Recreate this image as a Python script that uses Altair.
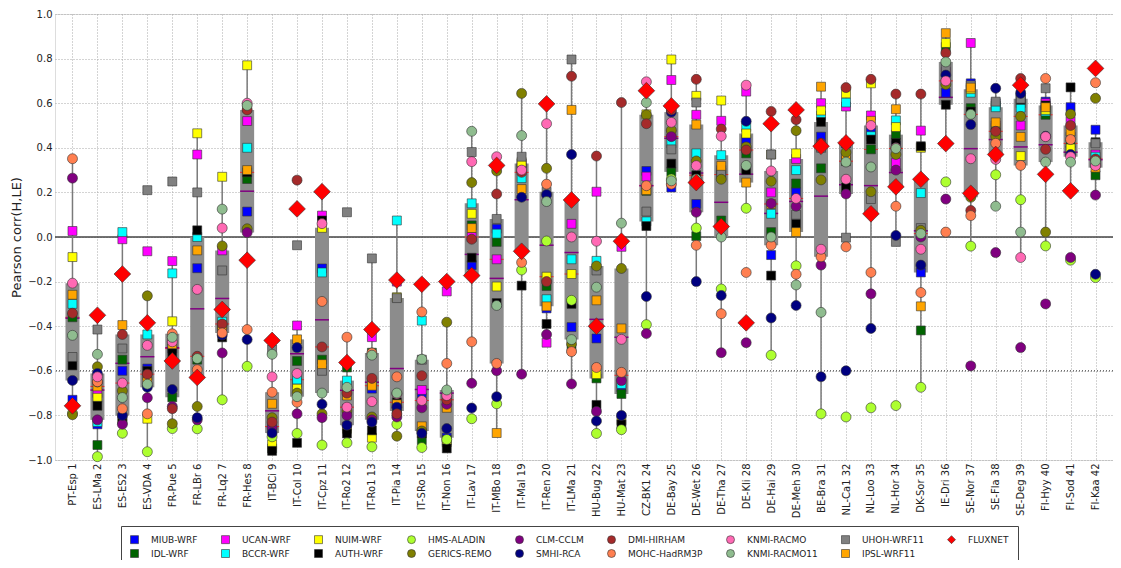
import altair as alt
import pandas as pd

sites = ["PT-Esp 1","ES-LMa 2","ES-ES2 3","ES-VDA 4","FR-Pue 5","FR-LBr 6","FR-Lq2 7","FR-Hes 8",
         "IT-BCi 9","IT-Col 10","IT-Cpz 11","IT-Ro2 12","IT-Ro1 13","IT-Pia 14","IT-SRo 15","IT-Non 16",
         "IT-Lav 17","IT-MBo 18","IT-Mal 19","IT-Ren 20","IT-LMa 21","HU-Bug 22","HU-Mat 23","CZ-BK1 24",
         "DE-Bay 25","DE-Wet 26","DE-Tha 27","DE-Kli 28","DE-Hai 29","DE-Meh 30","BE-Bra 31","NL-Ca1 32",
         "NL-Loo 33","NL-Hor 34","DK-Sor 35","IE-Dri 36","SE-Nor 37","SE-Fla 38","SE-Deg 39","FI-Hyy 40",
         "FI-Sod 41","FI-Kaa 42"]

MIUB_WRF = [-0.73, -0.84, -0.60, -0.59, -0.50, -0.14, -0.40, 0.114, -0.86, -0.652, -0.141, -0.77, -0.68, -0.766,
            -0.72, -0.90, -0.126, 0.037, 0.33, -0.32, -0.404, -0.455, -0.674, 0.296, 0.222, 0.148, 0.30, 0.437,
            -0.081, 0.20, 0.45, 0.42, 0.47, 0.41, -0.159, 0.647, 0.689, 0.60, 0.64, 0.607, 0.582, 0.481]
IDL_WRF = [-0.36, -0.933, -0.55, -0.62, -0.719, -0.55, -0.41, 0.26, -0.948, -0.556, -0.55, -0.585, -0.519, -0.78,
           -0.911, -0.91, 0.052, -0.022, 0.31, -0.22, -0.50, -0.634, -0.704, 0.207, 0.292, 0.004, 0.074, 0.375,
           0.022, 0.24, 0.308, 0.34, 0.393, 0.459, -0.419, 0.852, 0.578, 0.59, 0.60, 0.548, 0.42, 0.277]
UCAN_WRF = [0.027, -0.70, -0.01, -0.064, -0.108, 0.37, -0.06, 0.52, -0.85, -0.397, 0.096, -0.85, -0.449, -0.20,
            -0.686, -0.244, 0.0, -0.10, 0.32, -0.474, 0.059, 0.203, -0.044, 0.271, 0.704, 0.548, 0.521, 0.652,
            0.20, 0.35, 0.60, 0.585, 0.545, 0.333, 0.477, 0.74, 0.87, 0.50, 0.50, 0.60, 0.519, 0.37]
BCCR_WRF = [-0.30, -0.83, 0.022, -0.437, -0.163, 0.0, -0.38, 0.40, -0.87, -0.64, -0.159, -0.644, -0.66, 0.074,
            -0.375, -0.72, 0.151, 0.015, 0.264, -0.279, -0.10, -0.107, -0.659, 0.07, 0.42, 0.375, 0.367, 0.493,
            0.104, 0.30, 0.544, 0.603, 0.452, 0.523, 0.197, 0.696, 0.647, 0.582, 0.58, 0.563, 0.388, 0.36]
NUIM_WRF = [-0.09, -0.721, -0.82, -0.815, -0.378, 0.465, 0.27, 0.77, -0.93, -0.68, 0.041, -0.86, -0.90, -0.27,
            -0.74, -0.92, 0.104, -0.222, 0.336, -0.178, -0.166, -0.615, -0.822, 0.55, 0.796, 0.633, 0.612, 0.464,
            0.37, 0.375, 0.567, 0.644, 0.689, 0.493, 0.40, 0.87, 0.663, 0.49, 0.363, 0.57, 0.397, 0.33]
AUTH_WRF = [-0.576, -0.757, -0.82, -0.60, -0.52, 0.03, -0.45, 0.29, -0.959, -0.923, 0.074, -0.881, -0.867, -0.741,
            -0.881, -0.948, -0.093, -0.296, -0.218, -0.39, -0.30, -0.753, -0.84, 0.049, 0.329, 0.277, 0.28, 0.30,
            -0.173, 0.059, 0.516, 0.222, 0.437, 0.422, 0.407, 0.593, 0.563, 0.47, 0.615, 0.59, 0.671, 0.425]
HMS_ALADIN = [-0.79, -0.985, -0.88, -0.963, -0.859, -0.86, -0.73, -0.58, -0.896, -0.881, -0.933, -0.923, -0.941,
              -0.84, -0.944, -0.908, -0.815, -0.748, -0.148, -0.018, -0.284, -0.881, -0.864, -0.393, 0.26, 0.04,
              -0.233, 0.129, -0.53, -0.129, -0.793, -0.807, -0.766, -0.756, -0.674, 0.247, -0.041, 0.279, 0.167,
              -0.04, -0.104, -0.182]
GERICS_REMO = [-0.797, -0.582, -0.69, -0.264, -0.837, -0.76, -0.04, 0.037, -0.81, -0.70, -0.793, -0.78, -0.807,
               -0.893, -0.87, -0.382, 0.244, 0.296, 0.644, 0.308, -0.479, -0.13, -0.141, 0.548, 0.479, 0.341, 0.259,
               0.404, 0.25, 0.477, 0.256, 0.38, 0.203, 0.37, 0.03, 0.684, 0.178, 0.45, 0.541, 0.022, 0.551, 0.622]
CLM_CCLM = [0.264, -0.82, -0.84, -0.721, -0.76, -0.82, -0.52, 0.02, -0.855, -0.793, -0.81, -0.80, -0.82, -0.807,
            -0.766, -0.75, -0.656, -0.60, -0.615, -0.437, -0.659, -0.782, -0.644, -0.433, 0.45, 0.111, -0.519,
            -0.474, 0.15, 0.138, -0.126, 0.193, -0.255, 0.30, 0.0, 0.17, -0.578, -0.07, -0.496, -0.30, -0.092, 0.188]
SMHI_RCA = [-0.643, -0.612, -0.80, -0.674, -0.684, -0.81, -0.44, -0.46, -0.879, -0.496, -0.75, -0.844, -0.83,
            -0.763, -0.88, -0.859, -0.767, -0.716, 0.178, 0.19, 0.37, -0.825, -0.80, -0.267, 0.56, -0.20, -0.262,
            0.519, -0.363, -0.307, -0.627, -0.60, -0.41, 0.007, -0.126, 0.726, 0.504, 0.667, 0.644, 0.452, 0.37,
            -0.167]
DMI_HIRHAM = [-0.342, -0.65, -0.437, -0.615, -0.77, -0.535, -0.39, 0.57, -0.83, 0.255, -0.493, -0.70, -0.634,
              -0.793, -0.622, -0.73, -0.01, 0.193, 0.29, -0.20, 0.721, 0.363, 0.603, 0.508, 0.57, 0.707, 0.484, 0.39,
              0.563, 0.526, 0.42, 0.67, 0.707, 0.641, 0.641, 0.825, 0.119, 0.474, 0.711, 0.393, 0.50, 0.35]
MOHC_HadRM3P = [0.351, -0.649, -0.77, -0.793, -0.434, -0.595, -0.43, -0.415, -0.696, -0.741, -0.289, -0.449, -0.52,
                -0.627, -0.336, -0.567, -0.47, -0.567, -0.114, 0.237, -0.514, -0.585, -0.607, 0.23, 0.237, -0.037,
                -0.344, -0.159, -0.037, -0.167, -0.089, -0.044, -0.159, 0.138, -0.249, 0.022, 0.096, 0.42, 0.321,
                0.711, 0.437, 0.692]
KNMI_RACMO = [-0.207, -0.627, -0.655, -0.486, -0.47, -0.235, 0.04, 0.60, -0.627, -0.612, 0.06, -0.763, -0.738,
              -0.704, -0.733, -0.711, 0.338, 0.36, 0.30, 0.508, 0.0, -0.019, -0.459, 0.696, 0.514, 0.32, 0.452,
              0.681, 0.296, 0.173, -0.055, 0.259, 0.50, 0.40, -0.055, 0.70, 0.351, 0.348, -0.092, 0.45, 0.36, 0.32]
KNMI_RACMO11 = [-0.441, -0.526, -0.72, -0.66, -0.45, -0.545, 0.125, 0.59, -0.526, -0.716, -0.70, -0.674, -0.53,
                -0.70, -0.548, -0.686, 0.474, -0.307, 0.455, 0.159, -0.46, -0.225, 0.062, 0.603, 0.252, 0.26, 0.0,
                0.321, 0.0, -0.215, -0.338, 0.336, 0.314, 0.397, 0.015, 0.785, 0.55, 0.138, 0.022, 0.336, 0.336,
                0.341]
UHOH_WRF11 = [-0.538, -0.415, -0.50, 0.21, 0.249, 0.20, -0.15, 0.58, -0.504, -0.037, -0.60, 0.111, -0.096, -0.274,
              -0.55, -0.70, 0.381, 0.081, 0.36, 0.203, 0.796, -0.15, -0.62, 0.114, 0.393, 0.603, 0.289, 0.40, 0.37,
              0.10, 0.40, -0.003, 0.17, -0.022, 0.04, 0.758, 0.68, 0.607, 0.62, 0.667, 0.45, 0.42]
IPSL_WRF11 = [-0.259, -0.67, -0.395, -0.649, -0.481, -0.06, -0.395, 0.30, -0.748, -0.459, -0.57, -0.711, -0.667,
              -0.75, -0.849, -0.766, 0.04, -0.879, 0.215, -0.311, 0.57, -0.284, -0.41, 0.21, 0.459, 0.504, 0.319,
              0.244, 0.148, 0.022, 0.674, 0.366, 0.521, 0.573, -0.311, 0.914, 0.67, 0.514, 0.449, 0.582, 0.474, 0.311]
FLUXNET = [-0.757, -0.351, -0.166, -0.385, -0.556, -0.63, -0.325, -0.104, -0.464, 0.126, 0.203, -0.563, -0.415,
           -0.193, -0.212, -0.20, -0.173, 0.321, -0.064, 0.597, 0.166, -0.40, -0.019, 0.656, 0.588, 0.244, 0.047,
           -0.385, 0.508, 0.57, 0.407, 0.422, 0.104, 0.225, 0.259, 0.419, 0.196, 0.37, 0.681, 0.281, 0.207, 0.756]

series = {
    "MIUB-WRF": MIUB_WRF, "IDL-WRF": IDL_WRF, "UCAN-WRF": UCAN_WRF, "BCCR-WRF": BCCR_WRF,
    "NUIM-WRF": NUIM_WRF, "AUTH-WRF": AUTH_WRF, "HMS-ALADIN": HMS_ALADIN, "GERICS-REMO": GERICS_REMO,
    "CLM-CCLM": CLM_CCLM, "SMHI-RCA": SMHI_RCA, "DMI-HIRHAM": DMI_HIRHAM, "MOHC-HadRM3P": MOHC_HadRM3P,
    "KNMI-RACMO": KNMI_RACMO, "KNMI-RACMO11": KNMI_RACMO11, "UHOH-WRF11": UHOH_WRF11, "IPSL-WRF11": IPSL_WRF11,
    "FLUXNET": FLUXNET,
}
colors = {
    "MIUB-WRF": "#0000ff", "IDL-WRF": "#006400", "UCAN-WRF": "#ff00ff", "BCCR-WRF": "#00ffff",
    "NUIM-WRF": "#ffff00", "AUTH-WRF": "#000000", "HMS-ALADIN": "#adff2f", "GERICS-REMO": "#808000",
    "CLM-CCLM": "#800080", "SMHI-RCA": "#000080", "DMI-HIRHAM": "#a52a2a", "MOHC-HadRM3P": "#ff7f50",
    "KNMI-RACMO": "#ff69b4", "KNMI-RACMO11": "#8fbc8f", "UHOH-WRF11": "#808080", "IPSL-WRF11": "#ffa500",
    "FLUXNET": "#ff0000",
}
shapes = {m: ("square" if "WRF" in m else "circle") for m in series}
shapes["FLUXNET"] = "diamond"

legend_order = ["MIUB-WRF", "UCAN-WRF", "NUIM-WRF", "HMS-ALADIN", "CLM-CCLM", "DMI-HIRHAM", "KNMI-RACMO",
                "UHOH-WRF11", "FLUXNET", "IDL-WRF", "BCCR-WRF", "AUTH-WRF", "GERICS-REMO", "SMHI-RCA",
                "MOHC-HadRM3P", "KNMI-RACMO11", "IPSL-WRF11"]

rows = []
for m, vals in series.items():
    assert len(vals) == len(sites), m
    for i, v in enumerate(vals):
        rows.append({"idx": i + 1, "model": m, "kind": shapes[m], "value": v})
df = pd.DataFrame(rows)

W, H = 1058, 446
FONT = "DejaVu Sans"

label_expr = "[" + ",".join("'" + s + "'" for s in sites) + "][datum.value - 1]"
xenc = alt.X("idx:Q", scale=alt.Scale(domain=[0.5, 42.5], nice=False, zero=False),
             axis=alt.Axis(values=list(range(1, 43)), labelExpr=label_expr, labelAngle=-90,
                           labelAlign="right", labelBaseline="middle", labelPadding=3, ticks=False,
                           title=None, grid=True, gridDash=[1, 2], gridColor="#a8a8a8", domain=False,
                           labelFontSize=10, labelColor="#222", labelFont=FONT))
yenc = alt.Y("value:Q", scale=alt.Scale(domain=[-1, 1], nice=False),
             axis=alt.Axis(values=[round(-1 + 0.2 * k, 1) for k in range(11)], format=".1f",
                           title="Pearson corr(H,LE)", titleFontSize=13, titleFontWeight="normal",
                           titleFont=FONT, titleColor="#222", titleX=-39, titleY=H / 2, titleAngle=-90,
                           titleBaseline="middle", titleAlign="center",
                           ticks=False, labelPadding=3,
                           grid=True, gridDash=[1, 2], gridColor="#a8a8a8", domain=False,
                           labelFontSize=10, labelColor="#222", labelFont=FONT))

zero = alt.Chart(pd.DataFrame({"value": [0.0]})).mark_rule(color="#444", strokeWidth=1.5).encode(y=yenc)
dots = alt.Chart(pd.DataFrame({"value": [-0.6]})).mark_rule(color="#333", strokeWidth=1,
                                                             strokeDash=[1, 2]).encode(y=yenc)

box = alt.Chart(df).mark_boxplot(
    extent=1.5, size=14, orient="vertical", outliers=False, ticks=False,
    box={"color": "#8c8c8c"}, median={"color": "#ff0000"},
    rule={"color": "#7a7a7a", "strokeWidth": 1.5},
).encode(x=xenc, y=yenc)

mean = alt.Chart(df).transform_aggregate(value="mean(value)", groupby=["idx"]).mark_point(
    shape="M-1,0L1,0", size=196, filled=False, color="#800080", strokeWidth=1.5, opacity=1
).encode(x=xenc, y=yenc)

cenc = alt.Color("model:N", scale=alt.Scale(domain=legend_order, range=[colors[m] for m in legend_order]),
                 legend=alt.Legend(orient="none", legendX=66, legendY=512, columns=9, direction="horizontal",
                                   title=None, strokeColor="#444", padding=9, columnPadding=22,
                                   rowPadding=3, labelFontSize=9, labelFont=FONT, labelColor="#222",
                                   symbolSize=64, symbolStrokeWidth=0.6, labelOffset=12))
senc = alt.Shape("model:N", scale=alt.Scale(domain=legend_order, range=[shapes[m] for m in legend_order]))


def layer_for(kind, size):
    return alt.Chart(df).transform_filter(alt.datum.kind == kind).mark_point(
        filled=True, stroke="#333333", strokeWidth=0.6, opacity=1, size=size
    ).encode(x=xenc, y=yenc, color=cenc, shape=senc)


squares = layer_for("square", 80)
circles = layer_for("circle", 100)
diamonds = layer_for("diamond", 280)

chart = alt.layer(zero, dots, box, mean, squares, circles, diamonds).properties(
    width=W, height=H, autosize=alt.AutoSizeParams(type="none"),
    padding={"left": 47, "top": 6, "right": 0, "bottom": 100},
).configure_view(stroke="#333", strokeWidth=1).configure(background="white")

chart.save("out.html", embed_options={"renderer": "svg", "actions": False})
